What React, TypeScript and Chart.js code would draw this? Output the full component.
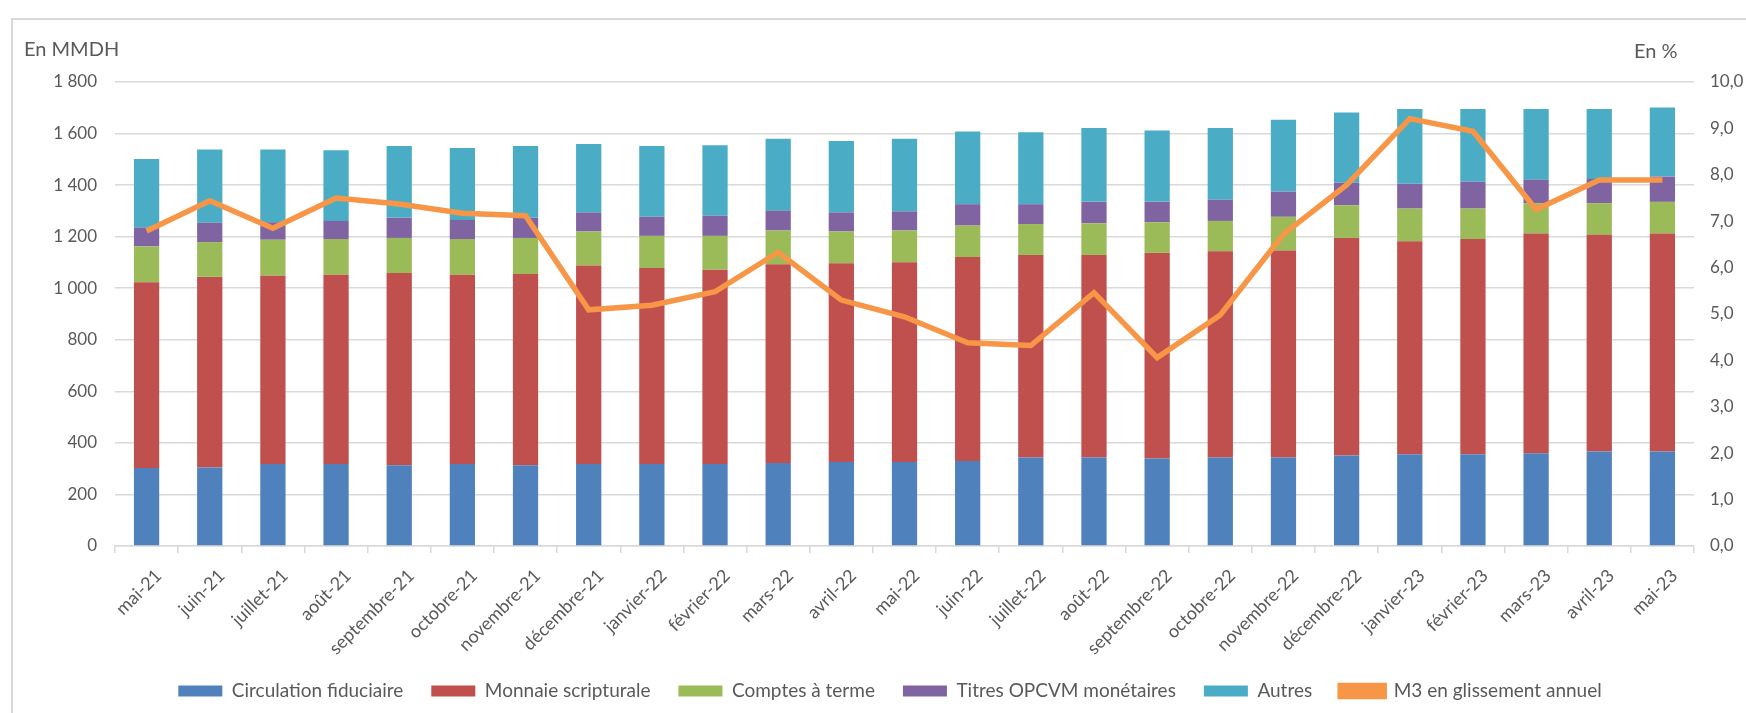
import React, { useEffect, useRef } from "react";
import { Chart, registerables } from "chart.js";

Chart.register(...registerables);

const categories = [
  "mai-21", "juin-21", "juillet-21", "août-21", "septembre-21", "octobre-21", "novembre-21",
  "décembre-21", "janvier-22", "février-22", "mars-22", "avril-22", "mai-22", "juin-22",
  "juillet-22", "août-22", "septembre-22", "octobre-22", "novembre-22", "décembre-22",
  "janvier-23", "février-23", "mars-23", "avril-23", "mai-23",
];

const circulationFiduciaire = [303, 305, 318, 318, 313, 318, 313, 318, 318, 318, 322, 326, 326, 330, 343, 343, 339, 343, 343, 351, 356, 356, 360, 367, 367];
const monnaieScripturale = [720, 739, 730, 734, 746, 734, 742, 770, 760, 754, 771, 771, 775, 791, 786, 786, 798, 800, 803, 844, 826, 835, 852, 840, 845];
const comptesATerme = [139, 135, 140, 139, 136, 139, 140, 132, 125, 131, 131, 123, 123, 122, 120, 123, 119, 118, 131, 127, 127, 118, 118, 123, 123];
const titresOPCVM = [73, 75, 68, 70, 78, 74, 78, 74, 74, 78, 77, 74, 74, 83, 77, 83, 79, 82, 98, 87, 96, 104, 91, 94, 98];
const autres = [266, 284, 282, 274, 279, 279, 279, 265, 275, 274, 279, 277, 282, 282, 279, 287, 277, 279, 279, 273, 290, 282, 274, 271, 268];
const m3Glissement = [6.79, 7.44, 6.85, 7.5, 7.37, 7.17, 7.12, 5.09, 5.19, 5.48, 6.33, 5.3, 4.94, 4.38, 4.32, 5.46, 4.06, 4.98, 6.72, 7.78, 9.21, 8.94, 7.25, 7.89, 7.89];

const leftTitle = "En MMDH";
const rightTitle = "En %";

const FONT = "Lato";
const TEXT = "#595959";
const GRID = "#d9d9d9";
const LEGEND_PAD = 28;

function fmtThousands(v: number) {
  if (v >= 1000) return `${Math.floor(v / 1000)} ${String(v % 1000).padStart(3, "0")}`;
  return String(v);
}

export default function App() {
  const ref = useRef<HTMLCanvasElement | null>(null);
  useEffect(() => {
    if (!ref.current) return;
    const decor = {
      id: "decor",
      beforeInit(chart: any) {
        const legend = chart.legend;
        if (legend) {
          const orig = legend.fit.bind(legend);
          legend.fit = function () {
            orig();
            this.height = 43;
          };
        }
      },
      afterLayout(chart: any) {
        const legend = chart.legend;
        if (legend) {
          const top = 693 - 11.4 - LEGEND_PAD;
          legend.top = top;
          legend.height = 713 - top;
          legend.bottom = 713;
          legend.left += 17;
          legend.right += 17;
        }
      },
      beforeDraw(chart: any) {
        const ctx = chart.ctx;
        ctx.save();
        ctx.strokeStyle = GRID;
        ctx.lineWidth = 2;
        ctx.beginPath();
        ctx.moveTo(12, 713);
        ctx.lineTo(12, 19);
        ctx.lineTo(1746, 19);
        ctx.stroke();
        ctx.restore();
      },
      afterDraw(chart: any) {
        const ctx = chart.ctx;
        ctx.save();
        ctx.font = `20px ${FONT}`;
        ctx.fillStyle = TEXT;
        ctx.textBaseline = "middle";
        ctx.textAlign = "left";
        ctx.fillText(leftTitle, 24, 50);
        ctx.fillText(rightTitle, 1634, 52);
        ctx.restore();
      },
    };
    const barCommon = {
      type: "bar" as const,
      stack: "s",
      yAxisID: "y",
      order: 1,
      barPercentage: 0.4,
      categoryPercentage: 1,
      borderWidth: 0,
    };
    const chart = new Chart(ref.current, {
      type: "bar",
      data: {
        labels: categories,
        datasets: [
          { ...barCommon, label: "Circulation fiduciaire", data: circulationFiduciaire, backgroundColor: "#4F81BD" },
          { ...barCommon, label: "Monnaie scripturale", data: monnaieScripturale, backgroundColor: "#C0504D" },
          { ...barCommon, label: "Comptes à terme", data: comptesATerme, backgroundColor: "#9BBB59" },
          { ...barCommon, label: "Titres OPCVM monétaires", data: titresOPCVM, backgroundColor: "#8064A2" },
          { ...barCommon, label: "Autres", data: autres, backgroundColor: "#4BACC6" },
          {
            type: "line",
            label: "M3 en glissement annuel",
            data: m3Glissement,
            yAxisID: "y1",
            order: 0,
            borderColor: "#F79646",
            backgroundColor: "#F79646",
            borderWidth: 5.5,
            pointRadius: 0,
            tension: 0,
          } as any,
        ],
      },
      options: {
        responsive: false,
        animation: false,
        layout: { padding: { top: 82, left: 0, right: 0, bottom: 0 } },
        plugins: {
          tooltip: { enabled: false },
          legend: {
            position: "bottom",
            labels: {
              font: { family: FONT, size: 19 },
              color: TEXT,
              boxWidth: 44,
              boxHeight: 11,
              padding: LEGEND_PAD,
              sort: (a: any, b: any) => a.datasetIndex - b.datasetIndex,
            },
          },
        },
        scales: {
          x: {
            stacked: true,
            afterFit: (s: any) => { s.height = 124; },
            grid: { display: true, offset: true, drawOnChartArea: false, drawTicks: true, tickLength: 7, color: GRID, lineWidth: 1.5 },
            border: { display: true, color: GRID, width: 1.5 },
            ticks: { autoSkip: false, minRotation: 45, maxRotation: 45, padding: 12, labelOffset: 12, color: TEXT, font: { family: FONT, size: 18 } },
          },
          y: {
            stacked: true,
            position: "left",
            min: 0,
            max: 1800,
            afterFit: (s: any) => { s.width = 115; },
            grid: { color: GRID, lineWidth: 1.5, drawTicks: false },
            border: { display: false },
            ticks: { stepSize: 200, padding: 18, color: TEXT, font: { family: FONT, size: 17 }, callback: (v: any) => fmtThousands(Number(v)) },
          },
          y1: {
            position: "right",
            min: 0,
            max: 10,
            afterFit: (s: any) => { s.width = 52; },
            grid: { display: false, drawTicks: false },
            border: { display: false },
            ticks: { stepSize: 1, padding: 16, color: TEXT, font: { family: FONT, size: 17 }, callback: (v: any) => Number(v).toFixed(1).replace(".", ",") },
          },
        },
      },
      plugins: [decor],
    } as any);
    return () => chart.destroy();
  }, []);
  return (
    <div style={{ position: "absolute", left: 0, top: 0, width: 1746, height: 713, background: "#fff" }}>
      <canvas ref={ref} width={1746} height={713} style={{ display: "block" }} />
    </div>
  );
}
